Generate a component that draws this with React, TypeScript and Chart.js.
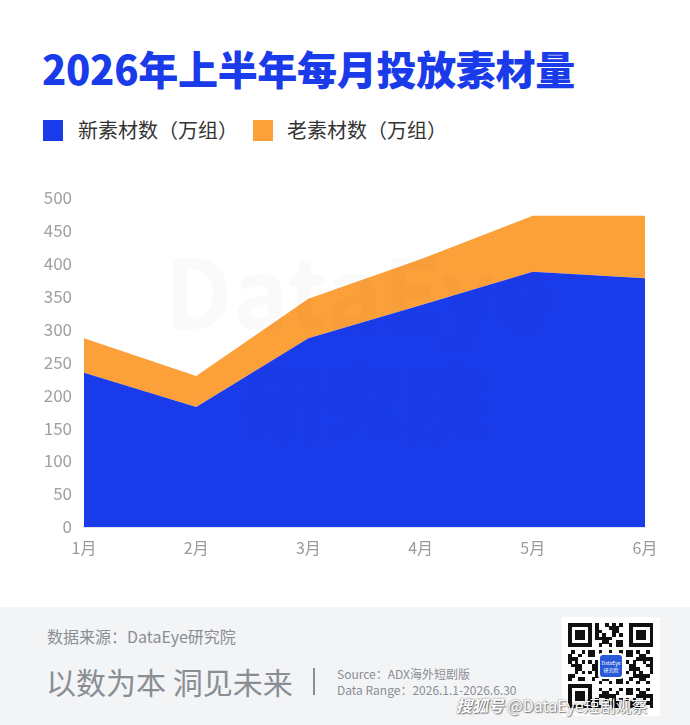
import React, { useEffect, useRef } from "react";
import { Chart, registerables } from "chart.js";

Chart.register(...registerables);

const months = ["1月", "2月", "3月", "4月", "5月", "6月"];
const newMaterial = [234, 182, 286, 336, 387, 377];
const oldMaterial = [52, 47, 60, 70, 85, 95];
const yTicks = [0, 50, 100, 150, 200, 250, 300, 350, 400, 450, 500];

const BLUE = "#1a3be9";
const ORANGE = "#fca13a";
const FONT = "'Noto Sans CJK SC', 'Noto Sans', sans-serif";

const watermark = {
  id: "watermark",
  afterDatasetsDraw(chart: any) {
    const { ctx, chartArea } = chart;
    ctx.save();
    ctx.font = `bold 96px ${FONT}`;
    ctx.fillStyle = "rgba(40,50,90,0.022)";
    ctx.textBaseline = "middle";
    ctx.fillText("DataEye", chartArea.left + 80, chartArea.top + 95);
    ctx.font = `bold 80px ${FONT}`;
    ctx.fillText("研究院", chartArea.left + 160, chartArea.top + 205);
    ctx.restore();
  },
};

function QR() {
  const n = 25;
  const cells: React.ReactNode[] = [];
  const finder = (r: number, c: number) =>
    (r < 7 && c < 7) || (r < 7 && c >= n - 7) || (r >= n - 7 && c < 7);
  for (let r = 0; r < n; r++) {
    for (let c = 0; c < n; c++) {
      let on = false;
      if (finder(r, c)) {
        const rr = r < 7 ? r : r - (n - 7);
        const cc = c < 7 ? c : c - (n - 7);
        on = rr === 0 || rr === 6 || cc === 0 || cc === 6 || (rr >= 2 && rr <= 4 && cc >= 2 && cc <= 4);
      } else if ((r === 7 && c < 8) || (c === 7 && r < 8) || (r === 7 && c >= n - 8) || (c === n - 8 && r < 8) || (r === n - 8 && c < 8) || (c === 7 && r >= n - 8)) {
        on = false;
      } else {
        on = ((r * 31 + c * 17 + r * c * 7) % 11) < 5;
      }
      if (on) {
        cells.push(
          <div key={`${r}-${c}`} style={{ position: "absolute", left: c * 3.4, top: r * 3.4, width: 3.5, height: 3.5, background: "#111" }} />
        );
      }
    }
  }
  return (
    <div style={{ position: "absolute", left: 562, top: 617, width: 98, height: 99, background: "#fff" }}>
      <div style={{ position: "absolute", left: 6, top: 6, width: 86, height: 86 }}>
        {cells}
        <div style={{ position: "absolute", left: 30, top: 30, width: 26, height: 26, background: "#fff", borderRadius: 4 }} />
        <div style={{ position: "absolute", left: 32, top: 32, width: 22, height: 22, background: "#2a5bd7", borderRadius: 3, color: "#fff", fontSize: 5, lineHeight: "7px", textAlign: "center", paddingTop: 4, boxSizing: "border-box", fontFamily: FONT }}>
          DataEye<br />研究院
        </div>
      </div>
    </div>
  );
}

export default function App() {
  const ref = useRef<HTMLCanvasElement>(null);
  useEffect(() => {
    document.body.style.margin = "0";
    const chart = new Chart(ref.current!, {
      type: "line",
      data: {
        labels: months,
        datasets: [
          {
            label: "新素材数（万组）",
            data: newMaterial,
            backgroundColor: BLUE,
            borderColor: BLUE,
            borderWidth: 0,
            fill: "origin",
            pointRadius: 0,
            tension: 0,
          },
          {
            label: "老素材数（万组）",
            data: oldMaterial,
            backgroundColor: ORANGE,
            borderColor: ORANGE,
            borderWidth: 0,
            fill: "-1",
            pointRadius: 0,
            tension: 0,
          },
        ],
      },
      options: {
        animation: false,
        responsive: false,
        maintainAspectRatio: false,
        layout: { padding: { top: 14, right: 45, left: 0, bottom: 0 } },
        plugins: { legend: { display: false }, tooltip: { enabled: false } },
        scales: {
          x: {
            offset: false,
            grid: { display: false, drawOnChartArea: false, drawTicks: true, tickLength: 6, color: "#dfe3ee" } as any,
            border: { display: true, color: "#dfe3ee", width: 2 },
            ticks: { color: "#9a9a9a", font: { size: 16, family: FONT }, padding: 5 },
            afterFit: (s: any) => { s.height = 56; },
          },
          y: {
            stacked: true,
            min: 0,
            max: 500,
            afterBuildTicks: (s: any) => { s.ticks = yTicks.map((v) => ({ value: v })); },
            grid: { display: false },
            border: { display: false },
            ticks: { color: "#a0a0a0", font: { size: 17, family: FONT }, padding: 4 },
            afterFit: (s: any) => { s.width = 84; },
          },
        },
      },
      plugins: [watermark],
    });
    return () => chart.destroy();
  }, []);

  return (
    <div style={{ position: "absolute", left: 0, top: 0, width: 690, height: 725, background: "#fff", overflow: "hidden", fontFamily: FONT }}>
      <div style={{ position: "absolute", left: 42, top: 41, fontSize: 40, fontWeight: 900, color: BLUE, lineHeight: "54px", whiteSpace: "nowrap", letterSpacing: -0.3 }}>
        2026年上半年每月投放素材量
      </div>
      <div style={{ position: "absolute", left: 43, top: 120, width: 20, height: 21, background: BLUE }} />
      <div style={{ position: "absolute", left: 78, top: 116, fontSize: 20, color: "#333", lineHeight: "28px", whiteSpace: "nowrap" }}>新素材数（万组）</div>
      <div style={{ position: "absolute", left: 253, top: 120, width: 20, height: 21, background: ORANGE }} />
      <div style={{ position: "absolute", left: 287, top: 116, fontSize: 20, color: "#333", lineHeight: "28px", whiteSpace: "nowrap" }}>老素材数（万组）</div>

      <canvas ref={ref} width={690} height={400} style={{ position: "absolute", left: 0, top: 183, width: 690, height: 400 }} />

      <div style={{ position: "absolute", left: 0, top: 607, width: 690, height: 118, background: "#f3f4f6" }} />
      <div style={{ position: "absolute", left: 47, top: 624, fontSize: 16, color: "#8a8d94", lineHeight: "24px", whiteSpace: "nowrap" }}>数据来源：DataEye研究院</div>
      <div style={{ position: "absolute", left: 46, top: 661, fontSize: 30, color: "#8a8d94", lineHeight: "40px", whiteSpace: "nowrap" }}>以数为本 洞见未来</div>
      <div style={{ position: "absolute", left: 313, top: 668, width: 2, height: 27, background: "#8a8d94" }} />
      <div style={{ position: "absolute", left: 337, top: 666, fontSize: 12, color: "#8a8d94", lineHeight: "16px", whiteSpace: "nowrap" }}>Source：ADX海外短剧版</div>
      <div style={{ position: "absolute", left: 337, top: 682, fontSize: 12, color: "#8a8d94", lineHeight: "16px", whiteSpace: "nowrap" }}>Data Range：2026.1.1-2026.6.30</div>
      <QR />
      <div style={{ position: "absolute", left: 456, top: 694, fontSize: 16, color: "#fff", lineHeight: "22px", whiteSpace: "nowrap", textShadow: "0 0 2px rgba(0,0,0,0.6), 1px 1px 1px rgba(0,0,0,0.4)" }}>
        <span style={{ fontStyle: "italic", fontWeight: 700 }}>搜狐号</span> @DataEye短剧观察
      </div>
    </div>
  );
}
